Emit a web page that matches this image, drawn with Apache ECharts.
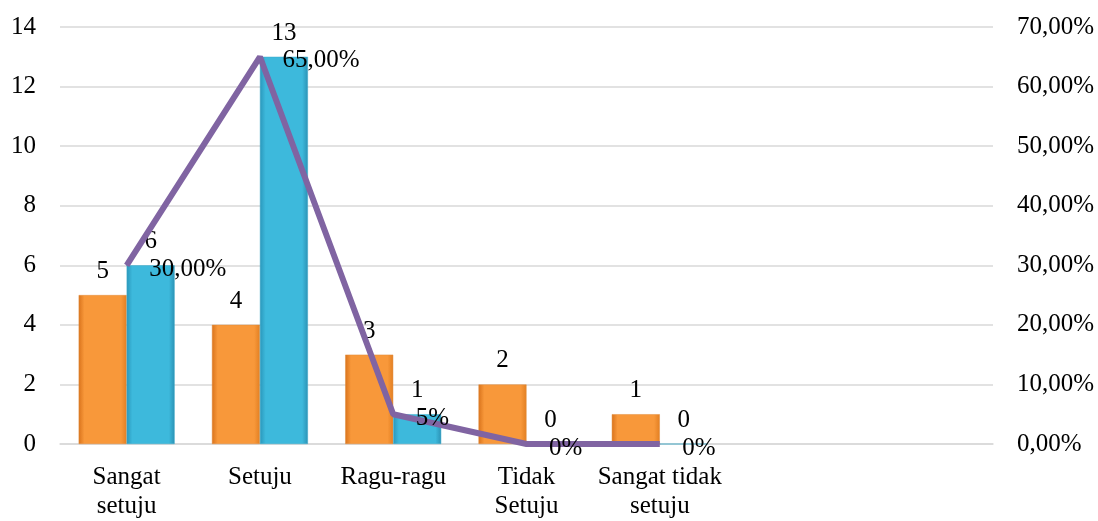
<!DOCTYPE html>
<html>
<head>
<meta charset="utf-8">
<script src="https://cdn.jsdelivr.net/npm/echarts@6/dist/echarts.min.js"></script>
<style>
html,body{margin:0;padding:0;background:#fff;}
#chart{width:1098px;height:521px;}
</style>
</head>
<body>
<div id="chart"></div>
<script>
var categories = ['Sangat\nsetuju', 'Setuju', 'Ragu-ragu', 'Tidak\nSetuju', 'Sangat tidak\nsetuju', '', ''];
var seriesA = [5, 4, 3, 2, 1, null, null];
var seriesB = [6, 13, 1, 0, 0, null, null];
var percentValues = [0.30, 0.65, 0.05, 0, 0, null, null];
var percentLabels = ['30,00%', '65,00%', '5%', '0%', '0%', '', ''];
var leftTicks = [0, 14, 2];
var rightTicks = [0, 0.7, 0.1];

var FONT = '"Liberation Serif", "Times New Roman", serif';
var FS = 25;
var chart = echarts.init(document.getElementById('chart'));

function barGrad(c1, c2, c3) {
  return new echarts.graphic.LinearGradient(0, 0, 1, 0, [
    {offset: 0, color: c1},
    {offset: 0.12, color: c2},
    {offset: 0.5, color: c2},
    {offset: 0.88, color: c2},
    {offset: 1, color: c3}
  ]);
}

chart.setOption({
  animation: false,
  backgroundColor: '#fff',
  textStyle: {fontFamily: FONT},
  grid: {left: 60, right: 105, top: 27, bottom: 74, containLabel: false},
  xAxis: {
    type: 'category',
    data: categories,
    axisTick: {show: false},
    axisLine: {lineStyle: {color: '#d9d9d9', width: 1.5}},
    axisLabel: {color: '#000', fontSize: FS, fontFamily: FONT, margin: 19, lineHeight: 29, interval: 0}
  },
  yAxis: [
    {
      type: 'value', min: leftTicks[0], max: leftTicks[1], interval: leftTicks[2],
      axisLine: {show: false}, axisTick: {show: false},
      splitLine: {lineStyle: {color: '#d9d9d9', width: 1.5}},
      axisLabel: {color: '#000', fontSize: FS, fontFamily: FONT, margin: 24, padding: [3, 0, 0, 0]}
    },
    {
      type: 'value', min: rightTicks[0], max: rightTicks[1], interval: rightTicks[2],
      axisLine: {show: false}, axisTick: {show: false},
      splitLine: {show: false},
      axisLabel: {
        color: '#000', fontSize: FS, fontFamily: FONT, margin: 24, padding: [3, 0, 0, 0],
        formatter: function (v) { return (v * 100).toFixed(2).replace('.', ',') + '%'; }
      }
    }
  ],
  series: [
    {
      type: 'bar', data: seriesA, barGap: '0%', barCategoryGap: '28%',
      itemStyle: {color: barGrad('#d9731c', '#f8983a', '#e27f22'), borderColor: '#e08a3a', borderWidth: 0.5},
      label: {show: true, position: 'top', distance: 11, color: '#000', fontSize: FS, fontFamily: FONT}
    },
    {
      type: 'bar', data: seriesB,
      itemStyle: {color: barGrad('#2a97bb', '#3db9dc', '#2b92b5'), borderColor: '#3aa8c8', borderWidth: 0.5},
      label: {show: true, position: 'top', distance: 11, color: '#000', fontSize: FS, fontFamily: FONT}
    },
    {
      type: 'line', yAxisIndex: 1, data: percentValues,
      symbol: 'circle', symbolSize: 1, showSymbol: true,
      lineStyle: {color: '#8064a2', width: 6},
      itemStyle: {color: '#8064a2'},
      z: 5,
      label: {
        show: true, position: 'right', distance: 22, offset: [0, 4],
        color: '#000', fontSize: FS, fontFamily: FONT,
        formatter: function (p) { return percentLabels[p.dataIndex]; }
      }
    }
  ]
});
</script>
</body>
</html>
